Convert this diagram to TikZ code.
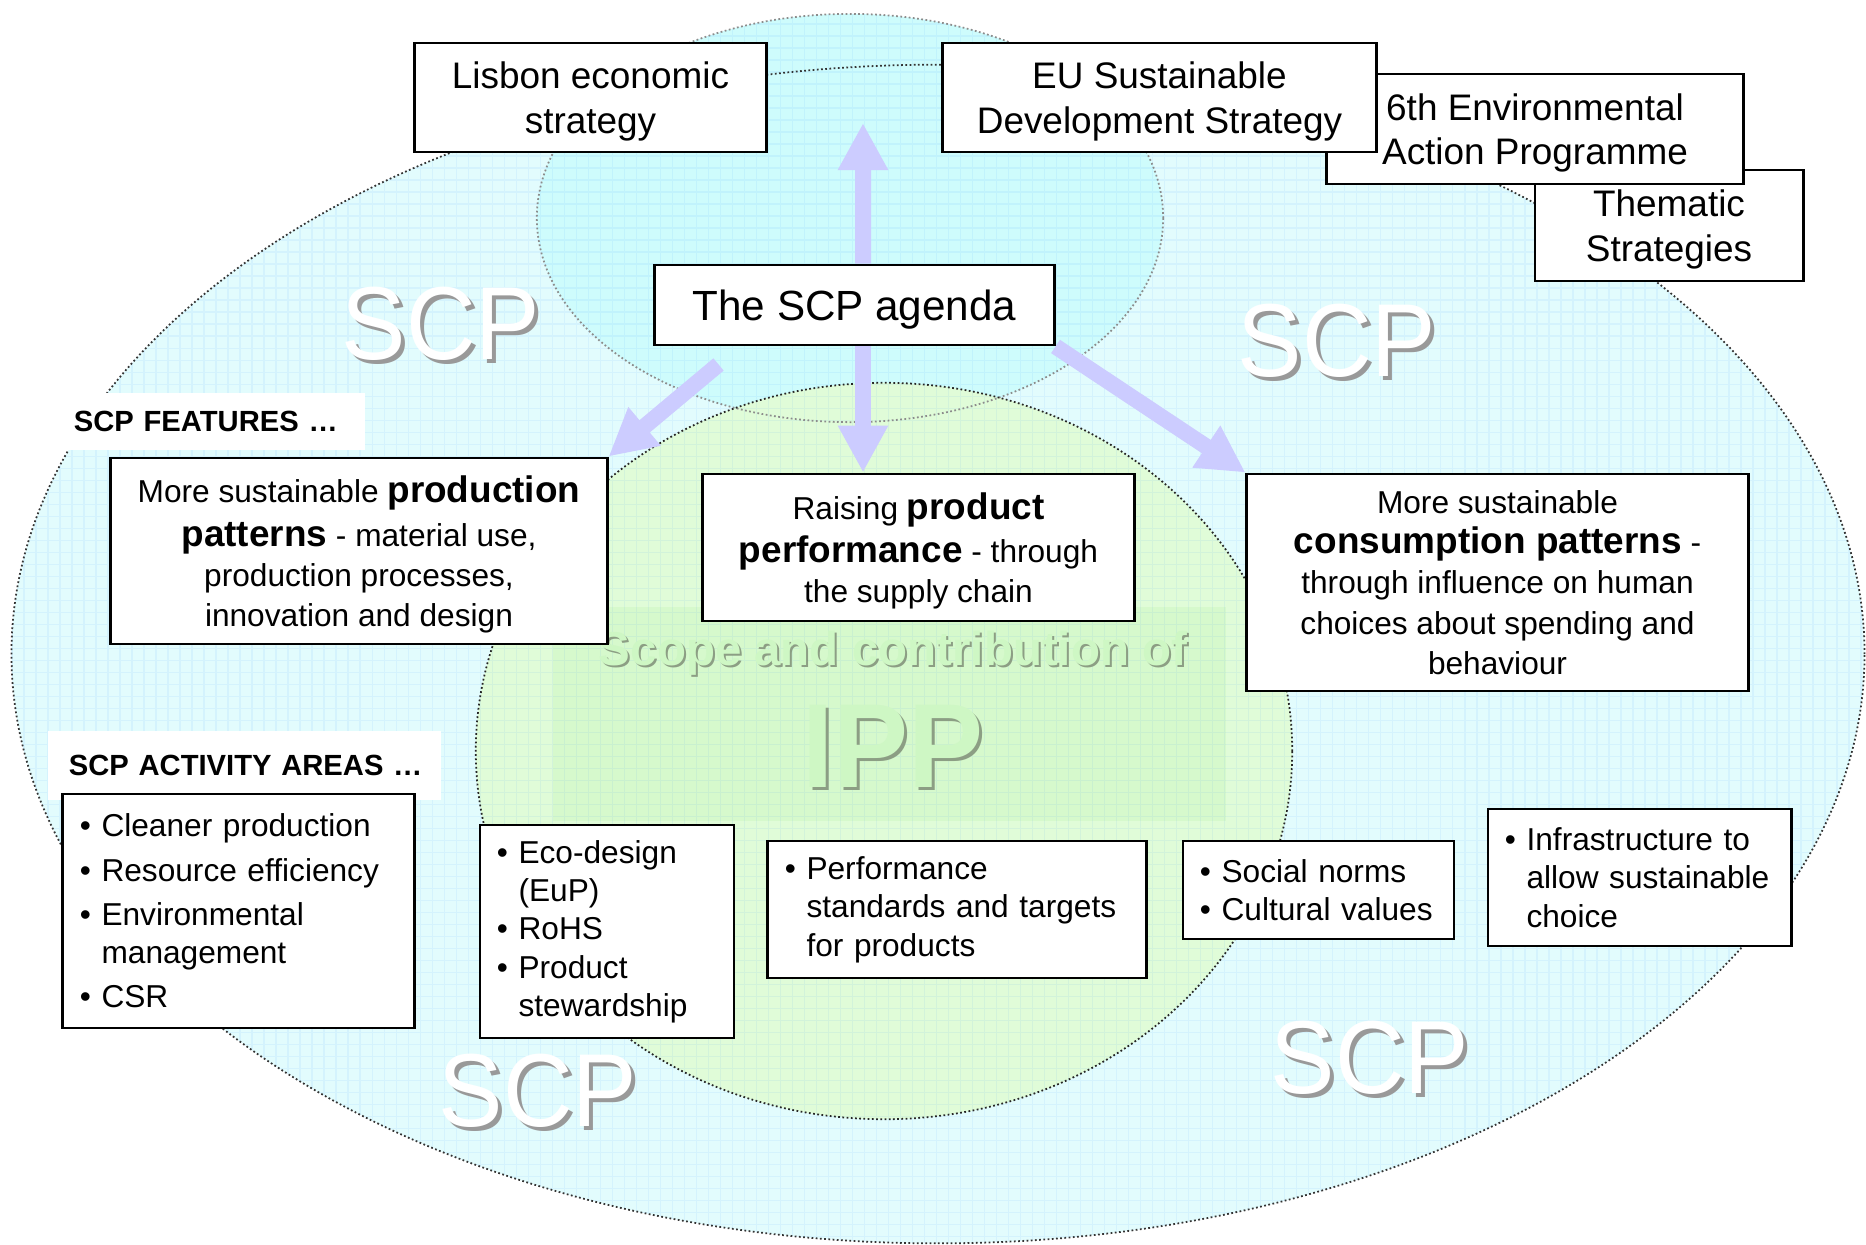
\documentclass[tikz,border=0pt]{standalone}
\usepackage{fontspec}
\setmainfont{Liberation Sans}
\usepackage{graphicx}
\usepackage{tikz}
\usetikzlibrary{arrows.meta,backgrounds}

\definecolor{scpcyan}{RGB}{226,252,253}
\definecolor{topcyan}{RGB}{206,252,252}
\definecolor{ippgreen}{RGB}{224,252,216}
\definecolor{ippbox}{RGB}{214,249,204}
\definecolor{arrowblue}{RGB}{204,204,255}
\definecolor{ipptext}{RGB}{206,247,196}
\definecolor{ippshadow}{RGB}{140,158,132}

\newcommand{\boldpart}[1]{{\fontsize{10.5}{11.4}\selectfont\bfseries #1}}
\newcommand{\lbul}{\textbullet\ }
\newcommand{\lind}{\hphantom{\textbullet\ }}

\begin{document}
\begin{tikzpicture}[x=0.01cm, y=-0.01cm,
box_style/.style={draw=black, fill=white, line width=0.8pt, align=center, inner sep=0pt, text depth=0pt},
top_style/.style={box_style, font=\fontsize{10.5}{12.6}\selectfont},
feat_style/.style={box_style, font=\fontsize{9}{11.4}\selectfont},
list_style/.style={draw=black, fill=white, line width=0.8pt, align=left, inner xsep=0.17cm, inner ysep=0pt, font=\fontsize{9}{10.9}\selectfont},
label_style/.style={fill=white, align=left, inner xsep=0.17cm, inner ysep=0pt, font=\fontsize{8.3}{10}\selectfont\bfseries},
arrow_style/.style={draw=arrowblue, line width=0.16cm, -{Triangle[width=0.47cm,length=0.47cm]}},
scp_style/.style={text=white, font=\fontsize{29.5}{30}\selectfont},
scp_shade/.style={text=black!40, font=\fontsize{29.5}{30}\selectfont},
ipp_style/.style={text=ipptext, font=\fontsize{34}{34}\selectfont\bfseries},
ipp_shade/.style={text=ippshadow, font=\fontsize{34}{34}\selectfont\bfseries},
ring_style/.style={line width=0.5pt, dash pattern=on 0.5pt off 0.7pt}]
\useasboundingbox (0,0) rectangle (1866,1244);

\node[top_style, minimum width=2.68cm, minimum height=1.11cm] (thematic) at (1669,225.5) {Thematic\\Strategies};
\node[top_style, minimum width=4.16cm, minimum height=1.10cm] (eap) at (1535,129) {6th Environmental\\Action Programme};
\node[top_style, minimum width=4.33cm, minimum height=1.09cm] (eusds) at (1159.5,97.5) {EU Sustainable\\Development Strategy};
\node[top_style, minimum width=3.51cm, minimum height=1.09cm] (lisbon) at (590.5,97.5) {Lisbon economic\\strategy};
\node[box_style, font=\fontsize{12}{14}\selectfont, minimum width=3.99cm, minimum height=0.80cm] (agenda) at (854.5,305) {The SCP agenda};

\node[label_style, text width=2.74cm, minimum height=0.57cm] (featlbl) at (211,421.5) {\mbox{SCP FEATURES \ldots}};
\node[feat_style, minimum width=4.96cm, minimum height=1.86cm] (prod) at (359,551) {More sustainable \boldpart{production}\\[1pt]\boldpart{patterns} - material use,\\production processes,\\innovation and design};
\node[feat_style, minimum width=4.31cm, minimum height=1.47cm] (raise) at (918.5,547.5) {Raising \boldpart{product}\\[1pt]\boldpart{performance} - through\\the supply chain};
\node[feat_style, minimum width=5.01cm, minimum height=2.17cm] (cons) at (1497.5,582.5) {More sustainable\\\boldpart{consumption patterns} -\\through influence on human\\choices about spending and\\behaviour};

\node[label_style, text width=3.51cm, inner xsep=0.21cm, minimum height=0.69cm] (actlbl) at (244.5,765.5) {\mbox{SCP ACTIVITY AREAS \ldots}};
\node[list_style, text width=3.17cm, minimum height=2.34cm] (clean) at (238.5,911) {\lbul Cleaner production\\[1.7pt]\lbul Resource efficiency\\[1.7pt]\lbul Environmental\\\lind management\\[1.7pt]\lbul CSR};
\node[list_style, text width=2.20cm, minimum height=2.13cm] (eco) at (607,931.5) {\lbul Eco-design\\\lind (EuP)\\\lbul RoHS\\\lbul Product\\\lind stewardship};
\node[list_style, text width=3.44cm, minimum height=1.37cm] (perf) at (957,909.5) {\lbul Performance\\\lind standards and targets\\\lind for products};
\node[list_style, text width=2.37cm, minimum height=0.98cm] (social) at (1318.5,890) {\lbul Social norms\\\lbul Cultural values};
\node[list_style, text width=2.69cm, minimum height=1.37cm] (infra) at (1639.5,877.5) {\lbul Infrastructure to\\\lind allow sustainable\\\lind choice};

\begin{scope}[on background layer]
\fill[scpcyan] (938,654) ellipse [x radius=9.26cm, y radius=5.89cm];
\fill[topcyan] (850,218) ellipse [x radius=3.13cm, y radius=2.04cm];
\fill[ippgreen] (884,751) ellipse [x radius=4.08cm, y radius=3.68cm];
\fill[ippbox] (553,607) rectangle (1226,821);
\begin{scope}
\clip (938,654) ellipse [x radius=9.26cm, y radius=5.89cm] (850,218) ellipse [x radius=3.13cm, y radius=2.04cm];
\draw[step=0.12cm, draw=blue!60!cyan, opacity=0.06, line width=0.4pt] (0,0) grid (1866,1244);
\end{scope}
\draw[ring_style, draw=black!80] (938,654) ellipse [x radius=9.26cm, y radius=5.89cm];
\draw[ring_style, draw=black!45] (850,218) ellipse [x radius=3.13cm, y radius=2.04cm];
\draw[ring_style, draw=black!85] (884,751) ellipse [x radius=4.08cm, y radius=3.68cm];

\foreach \n/\x/\y in {a/441/324, b/1337/341, c/538/1091, d/1370/1058}{
  \node[scp_shade] at (\x+4,\y+4) {\scalebox{0.93}[1]{SCP}};
  \node[scp_style] (scp\n) at (\x,\y) {\scalebox{0.93}[1]{SCP}};
}
\node[ipp_shade, font=\fontsize{13.5}{14}\selectfont\bfseries] at (895,655) {Scope and contribution of};
\node[ipp_style, font=\fontsize{13.5}{14}\selectfont\bfseries] (scope) at (893,653) {Scope and contribution of};
\node[ipp_shade] at (896,749) {\scalebox{0.94}[1]{IPP}};
\node[ipp_style] (ipp) at (893,746) {\scalebox{0.94}[1]{IPP}};

\coordinate (uptip) at (863,123);
\draw[arrow_style] ([xshift=0.085cm]agenda.north) -- (uptip);
\draw[arrow_style] ([xshift=0.085cm]agenda.south) -- ([xshift=0.085cm]agenda.south |- raise.north);
\draw[arrow_style] ([xshift=0.65cm,yshift=-0.18cm]agenda.south west) -- (prod.north east);
\draw[arrow_style] (agenda.south east) -- (cons.north west);
\end{scope}
\end{tikzpicture}
\end{document}
